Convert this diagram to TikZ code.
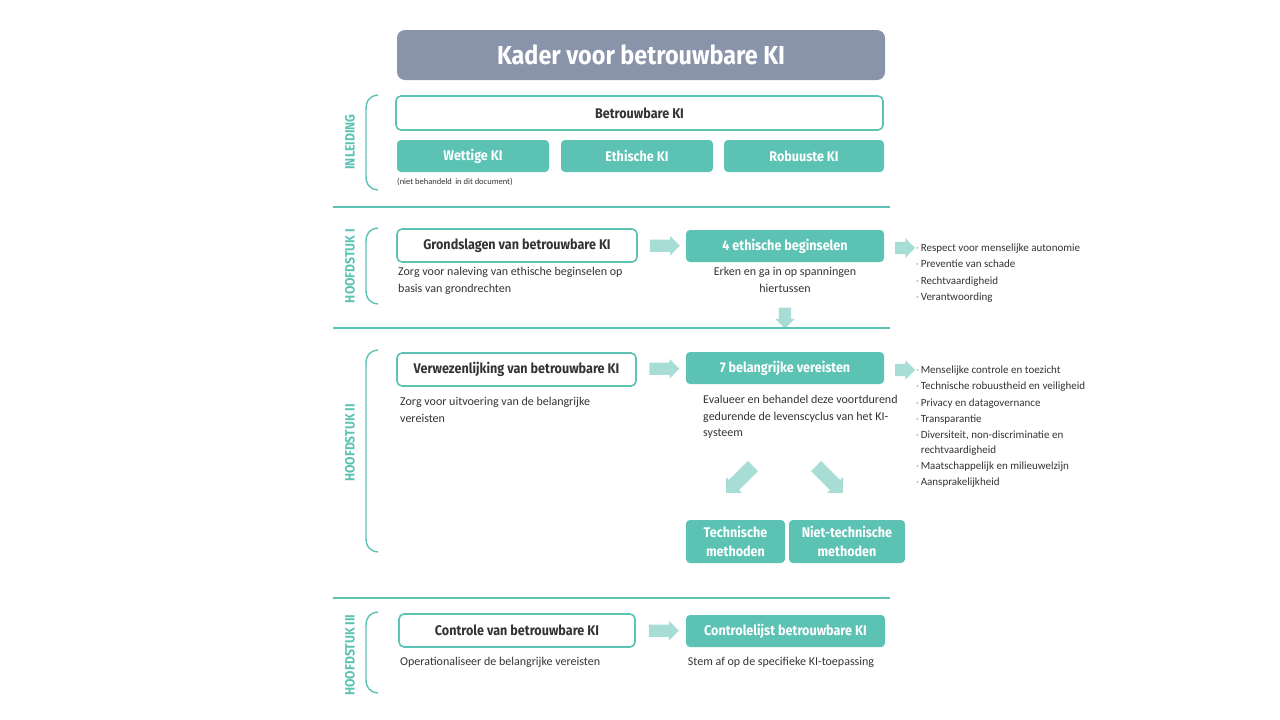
\documentclass[tikz,border=0pt]{standalone}
\usepackage{fontspec}
\setmainfont{Carlito}
\newfontfamily\hd[FakeStretch=0.9]{Fira Sans}
\usetikzlibrary{shapes.arrows,calc}
\definecolor{teal1}{HTML}{5BC2B4}
\definecolor{arrowc}{HTML}{A8DDD6}
\definecolor{titlec}{HTML}{8994AA}
\definecolor{txt}{HTML}{333333}
\tikzset{
  titlebox/.style={fill=titlec, rounded corners=8pt, text=white, inner sep=0pt,
    font=\hd\bfseries\fontsize{26}{30}\selectfont},
  tealbox/.style={fill=teal1, rounded corners=4pt, text=white, inner sep=0pt, align=center,
    font=\hd\bfseries\fontsize{14}{19}\selectfont},
  whitebox/.style={draw=teal1, line width=1.6pt, fill=white, rounded corners=5pt, inner sep=0pt,
    text=txt, font=\hd\bfseries\fontsize{14}{16}\selectfont},
  body/.style={font=\fontsize{12}{16.5}\selectfont, text=txt, inner sep=0pt},
  small/.style={font=\fontsize{8.5}{10}\selectfont, text=txt, inner sep=0pt},
  listtext/.style={font=\fontsize{11}{16.3}\selectfont, text=txt, inner sep=0pt, anchor=north west},
  blockarr/.style={single arrow, fill=arrowc, inner xsep=0pt, inner ysep=6pt,
    single arrow head extend=3.5pt, single arrow head indent=0pt},
  chapter/.style={rotate=90, text=teal1, inner sep=0pt,
    font=\hd\bfseries\fontsize{13.5}{15}\selectfont},
  bracketline/.style={draw=teal1, line width=1.4pt},
  sepline/.style={draw=teal1, line width=1.4pt},
}
\newcommand{\bul}{\textcolor{teal1}{·}}
\begin{document}
\begin{tikzpicture}[x=1pt,y=-1pt]
\useasboundingbox (0,0) rectangle (1280,720);

% Title
\node[titlebox, minimum width=488pt, minimum height=50pt] (title) at (641,55) {Kader voor betrouwbare KI};

% INLEIDING
\node[whitebox, minimum width=487pt, minimum height=34pt] (bk) at (639.5,113) {Betrouwbare KI};
\node[tealbox, minimum width=152pt, minimum height=32pt] (wet) at (473,156) {Wettige KI};
\node[tealbox, minimum width=152pt, minimum height=32pt] (eth) at (637,156) {Ethische KI};
\node[tealbox, minimum width=160pt, minimum height=32pt] (rob) at (804,156) {Robuuste KI};
\node[small, anchor=west] (niet) at (397,182) {(niet behandeld\, in dit document)};
\draw[bracketline] (378,95) .. controls (369,96) and (366,101) .. (366,110) -- (366,175) .. controls (366,184) and (369,189) .. (378,190);
\node[chapter] (lab0) at (350,142) {INLEIDING};
\draw[sepline] (333,207) -- (890,207);

% HOOFDSTUK I
\node[whitebox, minimum width=240pt, minimum height=33pt] (gr) at (517,245.5) {Grondslagen van betrouwbare KI};
\node[tealbox, minimum width=198pt, minimum height=32pt] (four) at (785,246) {4 ethische beginselen};
\node[blockarr, minimum height=30pt] (a1) at ($(gr.east)!0.5!(four.west)$) {};
\node[body, anchor=north west, align=left] (grt) at (398,267) {Zorg voor naleving van ethische beginselen op\\basis van grondrechten};
\node[body, anchor=north, align=center] (fourt) at (785,267) {Erken en ga in op spanningen\\hiertussen};
\node[blockarr, minimum height=20pt] (a2) at (902,248) {};
\node[listtext] (list1) at (916,240) {\begin{tabular}{@{}l@{\,}l@{}}
\bul & Respect voor menselijke autonomie\\
\bul & Preventie van schade\\
\bul & Rechtvaardigheid\\
\bul & Verantwoording
\end{tabular}};
\node[blockarr, minimum height=21pt, rotate=270] (a3) at (785,315) {};
\draw[sepline] (333,328) -- (890,328);
\draw[bracketline] (378,228) .. controls (369,229) and (366,234) .. (366,242) -- (366,290) .. controls (366,298) and (369,303) .. (378,304);
\node[chapter] (lab1) at (350,266) {HOOFDSTUK I};

% HOOFDSTUK II
\node[whitebox, minimum width=239pt, minimum height=33pt] (ver) at (516.5,369.5) {Verwezenlijking van betrouwbare KI};
\node[tealbox, minimum width=198pt, minimum height=32pt] (seven) at (785,368) {7 belangrijke vereisten};
\node[blockarr, minimum height=30pt] (a4) at ($(ver.east)!0.5!(seven.west)$) {};
\node[body, anchor=north west, align=left] (vert) at (400,397) {Zorg voor uitvoering van de belangrijke\\vereisten};
\node[body, anchor=north west, align=left] (sevent) at (703,395) {Evalueer en behandel deze voortdurend\\gedurende de levenscyclus van het KI-\\systeem};
\node[blockarr, minimum height=20pt] (a5) at (902,370) {};
\node[listtext] (list2) at (916,362) {\begin{tabular}{@{}l@{\,}l@{}}
\bul & Menselijke controle en toezicht\\
\bul & Technische robuustheid en veiligheid\\
\bul & Privacy en datagovernance\\
\bul & Transparantie\\
\bul & Diversiteit, non-discriminatie en\\[-2pt]
 & rechtvaardigheid\\
\bul & Maatschappelijk en milieuwelzijn\\
\bul & Aansprakelijkheid
\end{tabular}};
\node[blockarr, minimum height=38pt, inner ysep=7pt, single arrow head extend=4pt, rotate=225] (a6) at (742,477) {};
\node[blockarr, minimum height=38pt, inner ysep=7pt, single arrow head extend=4pt, rotate=315] (a7) at (827,477) {};
\node[tealbox, minimum width=99pt, minimum height=43pt] (tech) at (735.5,541.5) {Technische\\methoden};
\node[tealbox, minimum width=116pt, minimum height=43pt] (ntech) at (847,541.5) {Niet-technische\\methoden};
\draw[bracketline] (378,350) .. controls (369,351) and (366,356) .. (366,364) -- (366,538) .. controls (366,546) and (369,551) .. (378,552);
\node[chapter] (lab2) at (350,443) {HOOFDSTUK II};
\draw[sepline] (333,598) -- (890,598);

% HOOFDSTUK III
\node[whitebox, minimum width=236pt, minimum height=33pt] (con) at (517,630.5) {Controle van betrouwbare KI};
\node[tealbox, minimum width=199pt, minimum height=32pt] (cl) at (785.5,631) {Controlelijst betrouwbare KI};
\node[blockarr, minimum height=30pt] (a8) at ($(con.east)!0.5!(cl.west)$) {};
\node[body, anchor=north west] (cont) at (400,657) {Operationaliseer de belangrijke vereisten};
\node[body, anchor=north] (clt) at (781,657) {Stem af op de specifieke KI-toepassing};
\draw[bracketline] (378,612) .. controls (369,613) and (366,618) .. (366,626) -- (366,679) .. controls (366,687) and (369,692) .. (378,693);
\node[chapter] (lab3) at (350,655) {HOOFDSTUK III};
\end{tikzpicture}
\end{document}
